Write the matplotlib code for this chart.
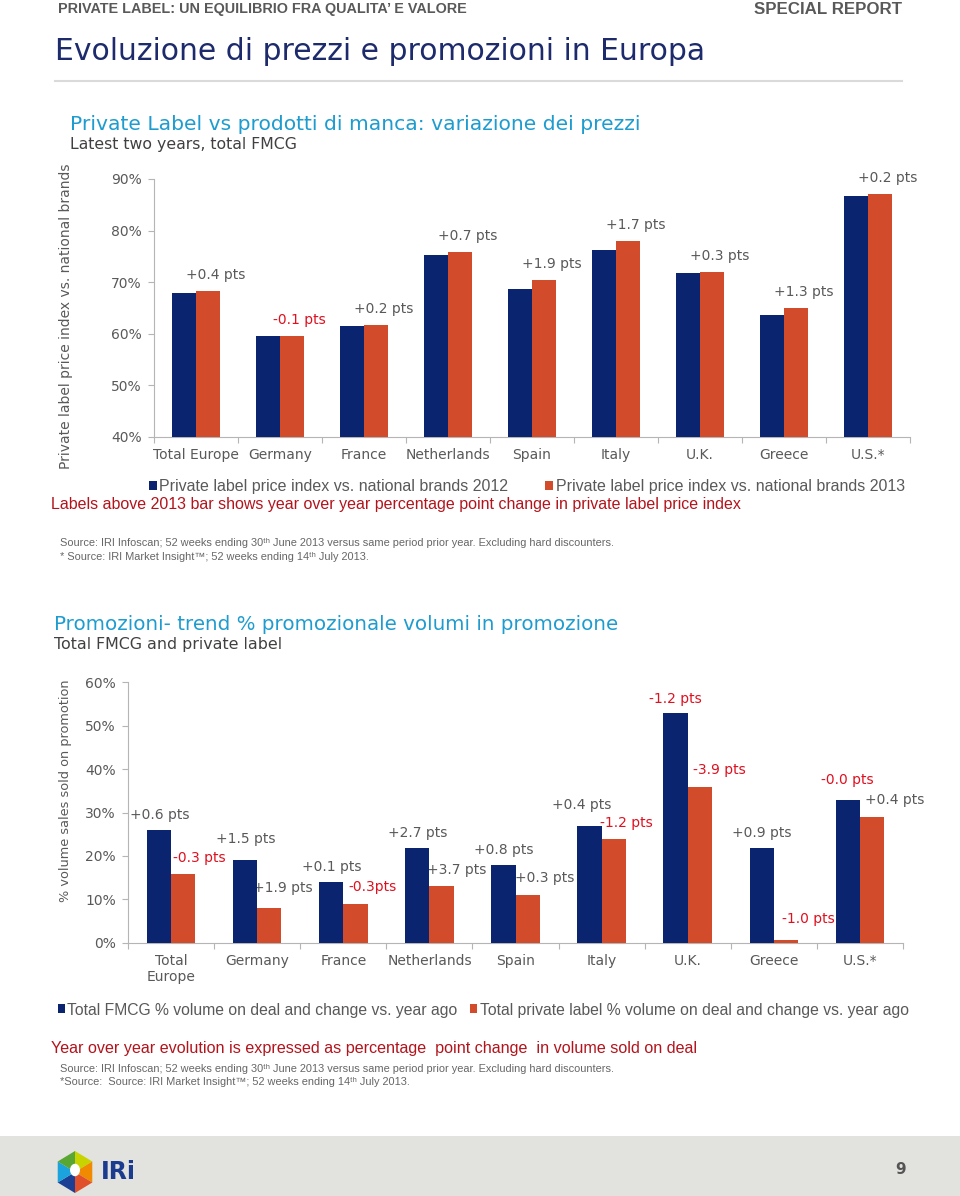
#!/usr/bin/env python
# -*- coding: utf-8 -*-
"""IRI special report page: private label price index and promotion share."""

import matplotlib

matplotlib.use("Agg")
import matplotlib.pyplot as plt
import numpy as np
from matplotlib.patches import Circle, Polygon, Rectangle

W, H = 960, 1196

NAVY = "#0b2470"
ORANGE = "#d24b2a"
GRAY = "#595959"
RED = "#e0101f"
NOTE_RED = "#b3141c"
TEAL = "#1e9cd0"
TITLE_BLUE = "#1d2b6c"
SPINE = "#b5b5b5"
NOTE_FONT = ["Liberation Sans", "DejaVu Sans"]

# chart 1: private label price index vs national brands
price_countries = ["Total Europe", "Germany", "France", "Netherlands", "Spain",
                   "Italy", "U.K.", "Greece", "U.S.*"]
price_2012 = [67.8, 59.6, 61.4, 75.2, 68.6, 76.3, 71.7, 63.6, 86.7]
price_2013 = [68.2, 59.5, 61.6, 75.9, 70.5, 78.0, 72.0, 64.9, 87.0]
price_change = ["+0.4 pts", "-0.1 pts", "+0.2 pts", "+0.7 pts", "+1.9 pts",
                "+1.7 pts", "+0.3 pts", "+1.3 pts", "+0.2 pts"]
price_ticks = [40, 50, 60, 70, 80, 90]

# chart 2: % volume sold on promotion
promo_countries = ["Total\nEurope", "Germany", "France", "Netherlands", "Spain",
                   "Italy", "U.K.", "Greece", "U.S.*"]
promo_fmcg = [26.0, 19.0, 13.9, 21.9, 18.0, 27.0, 53.0, 21.9, 32.9]
promo_pl = [15.9, 7.9, 9.0, 13.0, 11.0, 24.0, 35.9, 0.6, 29.0]
promo_fmcg_change = ["+0.6 pts", "+1.5 pts", "+0.1 pts", "+2.7 pts", "+0.8 pts",
                     "+0.4 pts", "-1.2 pts", "+0.9 pts", "-0.0 pts"]
promo_pl_change = ["-0.3 pts", "+1.9 pts", "-0.3pts", "+3.7 pts", "+0.3 pts",
                   "-1.2 pts", "-3.9 pts", "-1.0 pts", "+0.4 pts"]
promo_ticks = [0, 10, 20, 30, 40, 50, 60]

# label nudges in pixels (dx, dy) relative to bar top
FMCG_NUDGE = [(0, 15), (0, 21), (0, 15), (0, 15), (0, 15), (-8, 21), (0, 14), (0, 15), (0, 20)]
PL_NUDGE = [(16, 16), (13, 20), (17, 17), (15, 16), (17, 17), (13, 16), (20, 17), (23, 21), (23, 17)]

BAR_W = 0.28

SOURCE_1 = ("Source: IRI Infoscan; 52 weeks ending 30ᵗʰ June 2013 versus same period "
            "prior year. Excluding hard discounters.")


def fx(x):
    return x / W


def fy(y):
    return 1 - y / H


def label_color(text):
    return RED if text.startswith("-") else GRAY


def style_axes(ax, labels, yticks):
    n = len(labels)
    ax.set_xlim(-0.5, n - 0.5)
    ax.set_ylim(yticks[0], yticks[-1])
    ax.set_yticks(yticks)
    ax.set_yticklabels([f"{t}%" for t in yticks])
    ax.set_xticks(np.arange(n + 1) - 0.5)
    ax.set_xticklabels([])
    ax.set_xticks(np.arange(n), minor=True)
    ax.set_xticklabels(labels, minor=True)
    ax.tick_params(axis="x", which="minor", length=0, pad=8, labelsize=10,
                   labelcolor=GRAY)
    ax.tick_params(axis="x", which="major", length=4, color=SPINE)
    ax.tick_params(axis="y", length=4, color=SPINE, labelsize=10,
                   labelcolor=GRAY, pad=5)
    for side in ("top", "right"):
        ax.spines[side].set_visible(False)
    for side in ("left", "bottom"):
        ax.spines[side].set_color(SPINE)
    ax.set_facecolor("none")


def note(fig, x, y, text, size, color):
    fig.text(fx(x), fy(y), text, ha="left", va="center", fontsize=size,
             color=color, family=NOTE_FONT)


def draw_price_chart(fig):
    ax = fig.add_axes([fx(154), fy(436.7), (910 - 154) / W, (436.7 - 179) / H])
    x = np.arange(len(price_countries))
    b1 = ax.bar(x - BAR_W / 2, price_2012, BAR_W, color=NAVY, zorder=3)
    b2 = ax.bar(x + BAR_W / 2, price_2013, BAR_W, color=ORANGE, zorder=3)
    for i, txt in enumerate(price_change):
        ax.annotate(txt, xy=(x[i] + BAR_W / 2, price_2013[i]), xytext=(8, 16),
                    textcoords="offset pixels", ha="center", va="center",
                    fontsize=10, color=label_color(txt), zorder=2)
    style_axes(ax, price_countries, price_ticks)
    fig.legend(handles=[b1, b2],
               labels=["Private label price index vs. national brands 2012",
                       "Private label price index vs. national brands 2013"],
               loc="center left", bbox_to_anchor=(fx(149), fy(487)), ncol=2,
               frameon=False, handlelength=0.5, handleheight=0.5,
               handletextpad=0.15, columnspacing=2.3, borderpad=0,
               borderaxespad=0, prop={"family": "Liberation Sans", "size": 11.5},
               labelcolor=GRAY)
    fig.text(fx(66), fy(316), "Private label price index vs. national brands",
             rotation=90, ha="center", va="center", fontsize=10, color=GRAY)


def draw_promo_chart(fig):
    ax = fig.add_axes([fx(128.3), fy(942.7), (902.7 - 128.3) / W, (942.7 - 682.3) / H])
    x = np.arange(len(promo_countries))
    b1 = ax.bar(x - BAR_W / 2, promo_fmcg, BAR_W, color=NAVY, zorder=3)
    b2 = ax.bar(x + BAR_W / 2, promo_pl, BAR_W, color=ORANGE, zorder=3)
    for i in range(len(x)):
        txt = promo_fmcg_change[i]
        ax.annotate(txt, xy=(x[i] - BAR_W / 2, promo_fmcg[i]), xytext=FMCG_NUDGE[i],
                    textcoords="offset pixels", ha="center", va="center",
                    fontsize=10, color=label_color(txt), zorder=2)
        txt = promo_pl_change[i]
        ax.annotate(txt, xy=(x[i] + BAR_W / 2, promo_pl[i]), xytext=PL_NUDGE[i],
                    textcoords="offset pixels", ha="center", va="center",
                    fontsize=10, color=label_color(txt), zorder=2)
    style_axes(ax, promo_countries, promo_ticks)
    fig.legend(handles=[b1, b2],
               labels=["Total FMCG % volume on deal and change vs. year ago",
                       "Total private label % volume on deal and change vs. year ago"],
               loc="center left", bbox_to_anchor=(fx(58), fy(1010)), ncol=2,
               frameon=False, handlelength=0.45, handleheight=0.5,
               handletextpad=0.15, columnspacing=0.8, borderpad=0,
               borderaxespad=0, prop={"family": "Liberation Sans", "size": 11.3},
               labelcolor=GRAY)
    fig.text(fx(65), fy(791), "% volume sales sold on promotion",
             rotation=90, ha="center", va="center", fontsize=9.3, color=GRAY)


def draw_logo(fig, cx, cy, r):
    colors = ["#c8d400", "#f08a00", "#e0502a", "#1c3f94", "#1aa3dc", "#5aa632"]
    angles = np.radians([90, 30, -30, -90, -150, 150, 90])
    rx = r * 0.95
    for k, col in enumerate(colors):
        pts = [(fx(cx), fy(cy)),
               (fx(cx + rx * np.cos(angles[k])), fy(cy - r * np.sin(angles[k]))),
               (fx(cx + rx * np.cos(angles[k + 1])), fy(cy - r * np.sin(angles[k + 1])))]
        fig.add_artist(Polygon(pts, closed=True, transform=fig.transFigure,
                               facecolor=col, edgecolor="none", zorder=2))
    fig.add_artist(Circle((fx(cx), fy(cy - 2)), 5 / W, transform=fig.transFigure,
                          facecolor="white", edgecolor="none", zorder=3))


def main():
    plt.rcParams["font.family"] = ["DejaVu Sans"]

    fig = plt.figure(figsize=(W / 100, H / 100), dpi=100)

    # header
    fig.text(fx(58), fy(9), "PRIVATE LABEL: UN EQUILIBRIO FRA QUALITA’ E VALORE",
             ha="left", va="center", fontsize=10.4, fontweight="bold", color=GRAY,
             family="Liberation Sans")
    fig.text(fx(902), fy(9), "SPECIAL REPORT", ha="right", va="center",
             fontsize=12.2, fontweight="bold", color=GRAY, family="Liberation Sans")
    fig.text(fx(55), fy(51), "Evoluzione di prezzi e promozioni in Europa",
             ha="left", va="center", fontsize=21.5, color=TITLE_BLUE)
    fig.add_artist(plt.Line2D([fx(55), fx(902)], [fy(81), fy(81)],
                              transform=fig.transFigure, color="#dadada", lw=1.5))

    fig.text(fx(70), fy(125), "Private Label vs prodotti di manca: variazione dei prezzi",
             ha="left", va="center", fontsize=14.6, color=TEAL)
    fig.text(fx(70), fy(145), "Latest two years, total FMCG",
             ha="left", va="center", fontsize=11.3, color="#404040")

    draw_price_chart(fig)

    note(fig, 51, 505, "Labels above 2013 bar shows year over year percentage point "
         "change in private label price index", 11.5, NOTE_RED)
    note(fig, 60, 543, SOURCE_1, 7.9, "#666666")
    note(fig, 60, 557, "* Source: IRI Market Insight™; 52 weeks ending 14ᵗʰ July 2013.",
         7.9, "#666666")

    fig.text(fx(54), fy(624), "Promozioni- trend % promozionale volumi in promozione",
             ha="left", va="center", fontsize=14.3, color=TEAL)
    fig.text(fx(54), fy(645), "Total FMCG and private label",
             ha="left", va="center", fontsize=11.4, color="#404040")

    draw_promo_chart(fig)

    note(fig, 51, 1049, "Year over year evolution is expressed as percentage  point "
         "change  in volume sold on deal", 11.6, NOTE_RED)
    note(fig, 60, 1069, SOURCE_1, 7.9, "#666666")
    note(fig, 60, 1082, "*Source:  Source: IRI Market Insight™; 52 weeks ending 14ᵗʰ July 2013.",
         7.9, "#666666")

    # footer band
    fig.add_artist(Rectangle((0, 0), 1, fy(1136), transform=fig.transFigure,
                             facecolor="#e2e2de", edgecolor="none", zorder=0))
    draw_logo(fig, 75, 1172, 21)
    fig.text(fx(101), fy(1172), "IRi", ha="left", va="center", fontsize=17,
             fontweight="bold", color="#1b3b8f")
    fig.text(fx(901), fy(1170), "9", ha="center", va="center", fontsize=11,
             fontweight="bold", color="#555555")

    fig.savefig("out.png", dpi=100)
    plt.close(fig)


if __name__ == "__main__":
    main()
